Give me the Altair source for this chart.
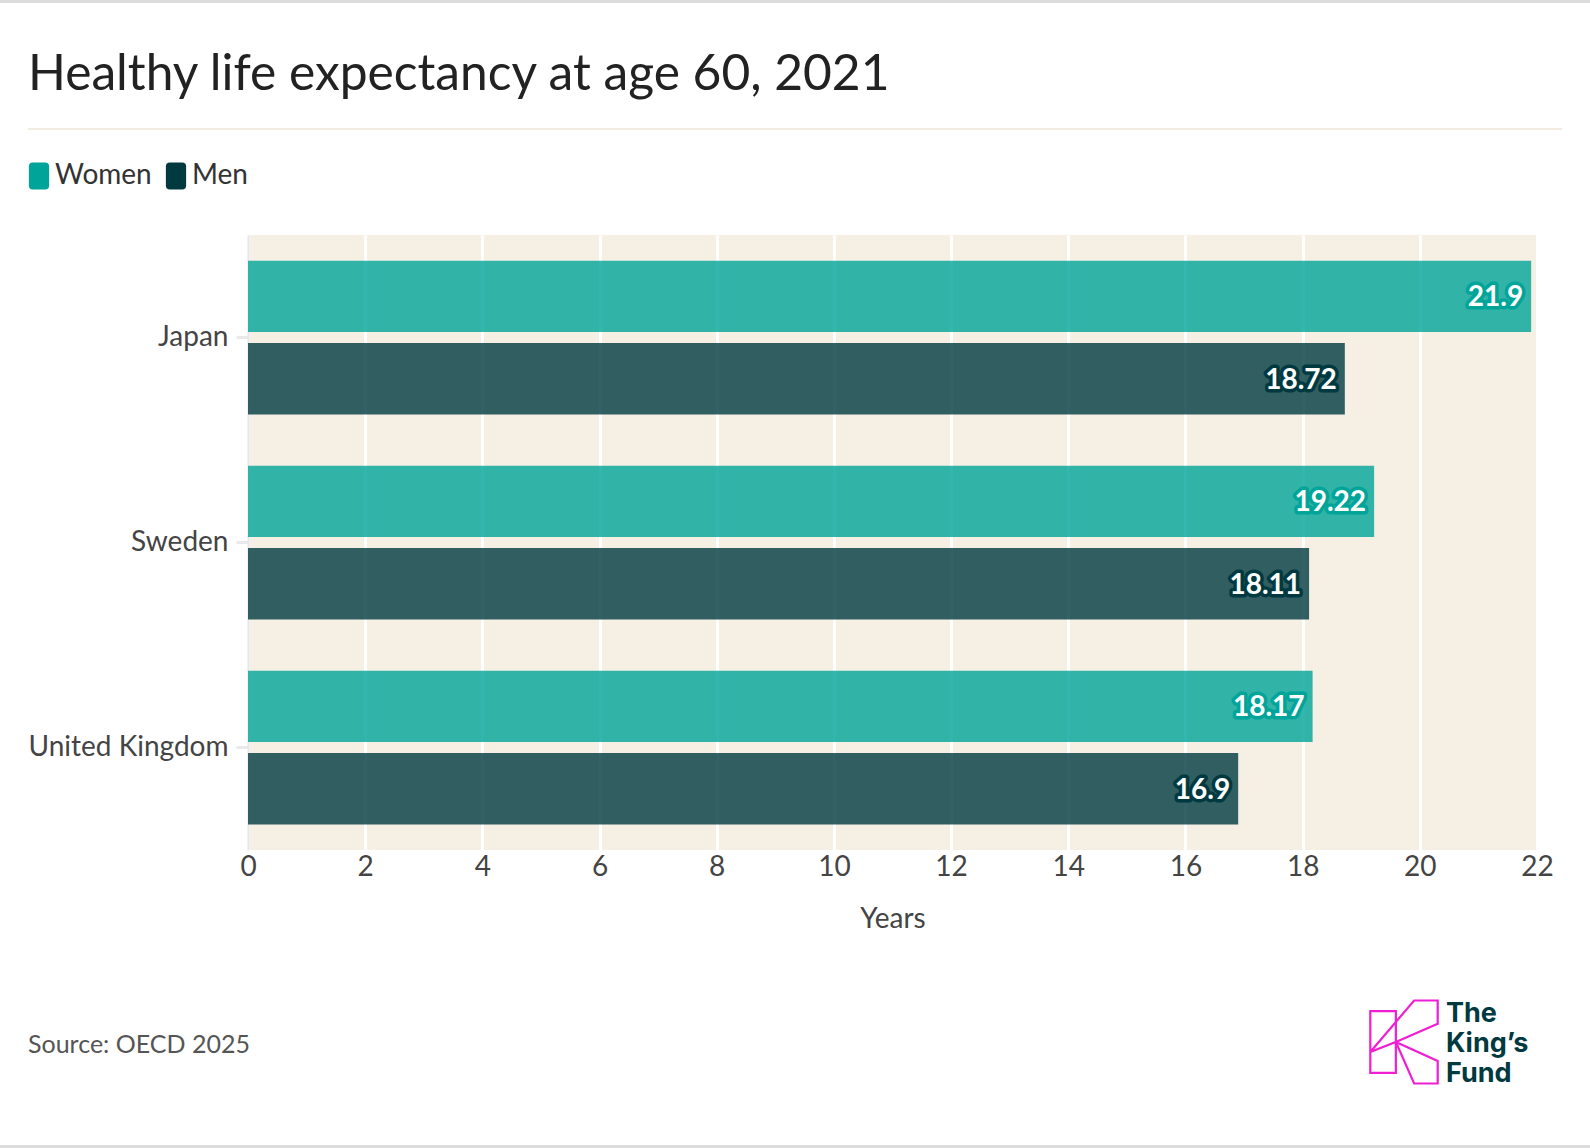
import altair as alt
import pandas as pd

# ---- data ----
countries = ["Japan", "Japan", "Sweden", "Sweden", "United Kingdom", "United Kingdom"]
sexes = ["Women", "Men", "Women", "Men", "Women", "Men"]
values = [21.9, 18.72, 19.22, 18.11, 18.17, 16.9]
labels = ["21.9", "18.72", "19.22", "18.11", "18.17", "16.9"]
country_order = ["Japan", "Sweden", "United Kingdom"]
sex_order = ["Women", "Men"]
sex_colors = ["#00a499", "#003a40"]
x_ticks = [0, 2, 4, 6, 8, 10, 12, 14, 16, 18, 20, 22]
title_text = "Healthy life expectancy at age 60, 2021"
source_text = "Source: OECD 2025"
logo_lines = ["The", "King\u2019s", "Fund"]

df = pd.DataFrame({"country": countries, "sex": sexes, "value": values, "label": labels})
one = pd.DataFrame({"a": [0]})

W, H = 1289, 615
PL, PT = 248, 235
FONT = "Lato"

ROUNDED = ("M-0.45,-1 L0.45,-1 Q0.75,-1 0.75,-0.7 L0.75,0.7 Q0.75,1 0.45,1 "
           "L-0.45,1 Q-0.75,1 -0.75,0.7 L-0.75,-0.7 Q-0.75,-1 -0.45,-1 Z")
KLOGO = ("M-0.812,-0.744 L-0.196,-0.744 L-0.196,0.744 L-0.812,0.744 Z "
         "M0.244,-1 L0.812,-1 L0.812,-0.44 L-0.196,0 L0.812,0.456 L0.812,1 "
         "L0.244,1 L-0.196,0 L-0.812,0.24 Z")

y_enc = alt.Y("country:N", sort=country_order, title=None,
              scale=alt.Scale(paddingInner=0.25, paddingOuter=0.125),
              axis=alt.Axis(labelFontSize=28, labelColor="#444", labelFont=FONT,
                            labelLimit=400, tickSize=12, tickColor="#e9e9e9", tickWidth=3,
                            domainColor="#e6e6ea", domainWidth=2, labelPadding=8))
yoff_enc = alt.YOffset("sex:N", sort=sex_order,
                       scale=alt.Scale(paddingInner=0.134, paddingOuter=0))
x_enc = alt.X("value:Q", scale=alt.Scale(domain=[0, 22], nice=False),
              axis=alt.Axis(values=x_ticks, format="d", title="Years", grid=True,
                            gridColor="white", gridWidth=3, domain=False, ticks=False,
                            labelFontSize=28, labelFlush=False,
                            labelColor="#444", labelFont=FONT, labelPadding=3,
                            titleFontSize=28, titleColor="#444", titleFont=FONT,
                            titleFontWeight="normal", titlePadding=24))

base = alt.Chart(df)

bars = base.mark_bar(opacity=0.8).encode(
    x=x_enc, y=y_enc, yOffset=yoff_enc,
    color=alt.Color("sex:N", sort=sex_order,
                    scale=alt.Scale(domain=sex_order, range=sex_colors),
                    legend=alt.Legend(orient="none", legendX=-223, legendY=-73,
                                      direction="horizontal", title=None,
                                      labelFontSize=28, labelColor="#333", labelFont=FONT,
                                      symbolType=ROUNDED, symbolSize=729, symbolOpacity=1,
                                      symbolStrokeWidth=0, labelOffset=2, columnPadding=10)),
)

halo = base.mark_text(align="right", baseline="middle", dx=-8, dy=2, font=FONT, fontSize=28,
                      fontWeight="bold", strokeWidth=7, strokeJoin="round", fill="white").encode(
    x="value:Q", y=alt.Y("country:N", sort=country_order), yOffset=alt.YOffset("sex:N", sort=sex_order),
    text="label:N",
    stroke=alt.Stroke("sex:N", scale=alt.Scale(domain=sex_order, range=sex_colors), legend=None),
)
txt = base.mark_text(align="right", baseline="middle", dx=-8, dy=2, font=FONT, fontSize=28,
                     fontWeight="bold", color="white").encode(
    x="value:Q", y=alt.Y("country:N", sort=country_order), yOffset=alt.YOffset("sex:N", sort=sex_order),
    text="label:N",
)

deco = alt.Chart(one)
title = deco.mark_text(align="left", baseline="alphabetic", font=FONT, fontSize=49.7,
                       color="#222").encode(x=alt.value(28 - PL), y=alt.value(90 - PT),
                                            text=alt.value(title_text))
source = deco.mark_text(align="left", baseline="alphabetic", font=FONT, fontSize=25,
                        color="#555").encode(x=alt.value(28 - PL), y=alt.value(1053 - PT),
                                             text=alt.value(source_text))
logo_layers = []
for i, line in enumerate(logo_lines):
    logo_layers.append(
        deco.mark_text(align="left", baseline="alphabetic", font="Inter", fontSize=27,
                       fontWeight=700, color="#003a3f").encode(
            x=alt.value(1446 - PL), y=alt.value(1022 + 30 * i - PT), text=alt.value(line))
    )
logo_k = deco.mark_point(shape=KLOGO, filled=False, stroke="#f01fd3", strokeWidth=2.2,
                         size=6889, opacity=1).encode(x=alt.value(1404 - PL), y=alt.value(1042 - PT))
sep = deco.mark_rule(color="#f3ede1", strokeWidth=2).encode(
    x=alt.value(28 - PL), x2=alt.value(1562 - PL), y=alt.value(129 - PT))
top_b = deco.mark_rule(color="#dcdcdc", strokeWidth=3).encode(
    x=alt.value(-PL), x2=alt.value(1590 - PL), y=alt.value(1.5 - PT))
bot_b = deco.mark_rule(color="#dcdcdc", strokeWidth=3).encode(
    x=alt.value(-PL), x2=alt.value(1590 - PL), y=alt.value(1146.5 - PT))

chart = alt.layer(bars, halo, txt, title, source, *logo_layers, logo_k, sep, top_b, bot_b).properties(
    width=W, height=H,
    autosize=alt.AutoSizeParams(type="none"),
    padding={"left": PL, "top": PT, "right": 1590 - PL - W, "bottom": 1148 - PT - H},
    background="white",
).resolve_scale(color="shared").configure(font=FONT).configure_view(fill="#f5efe4", stroke=None)

chart.save("out.html", embed_options={"renderer": "svg", "actions": False})
